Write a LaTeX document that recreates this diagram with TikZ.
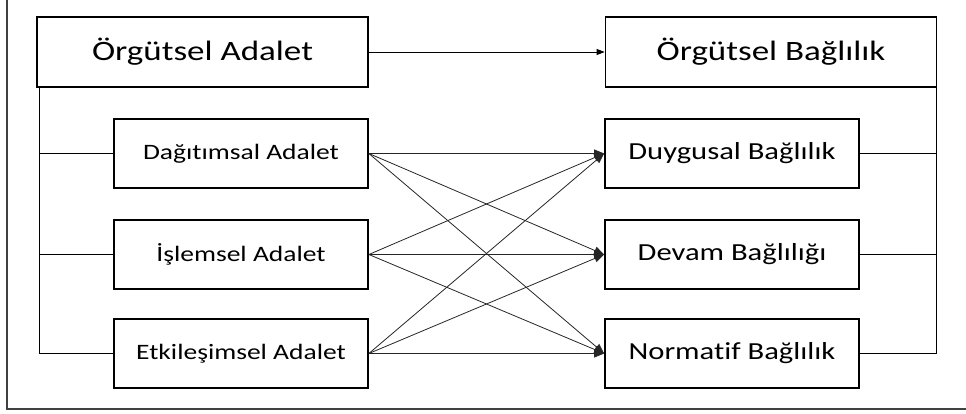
\documentclass[tikz,border=0pt]{standalone}
\usepackage{fontspec}
\setmainfont{Carlito}[FakeStretch=1.25,Ligatures=NoCommon]
\usetikzlibrary{arrows.meta}
\begin{document}
\begin{tikzpicture}[x=1pt,y=-1pt,
  bigbox/.style={draw,line width=1.7pt,minimum width=331pt,minimum height=70pt,inner sep=0pt,font=\fontsize{28}{30}\selectfont},
  lbox/.style={draw,line width=1.7pt,minimum width=254pt,minimum height=69pt,inner sep=0pt,font=\fontsize{22}{24}\selectfont},
  rbox/.style={draw,line width=1.7pt,minimum width=254pt,minimum height=69pt,inner sep=0pt,font=\fontsize{24.5}{26}\selectfont},
  conn/.style={line width=0.8pt},
  arr/.style={line width=0.8pt,black!85,-{Triangle[length=10pt,width=8pt]}},
  toparr/.style={line width=0.8pt,-{Triangle[length=8pt,width=6pt]}}
]
\useasboundingbox (0,0) rectangle (966,414);
% outer frame
\draw[line width=1.5pt,black!75] (7,0) -- (7,409) -- (966,409);

\node[bigbox] (ta) at (202.5,52) {Örgütsel Adalet};
\node[bigbox] (tb) at (771,52) {Örgütsel Bağlılık};

\node[lbox] (L1) at (241,153.5) {Dağıtımsal Adalet};
\node[lbox] (L2) at (241,254.5) {İşlemsel Adalet};
\node[lbox] (L3) at (241,353.5) {Etkileşimsel Adalet};

\node[rbox] (R1) at (732,153.5) {Duygusal Bağlılık};
\node[rbox] (R2) at (732,254.5) {Devam Bağlılığı};
\node[rbox] (R3) at (732,353.5) {Normatif Bağlılık};

\draw[toparr] (ta.east) -- (tb.west);

\coordinate (lx) at (39,0);
\coordinate (rx) at (936,0);
\draw[conn] (lx |- ta.south) -- (lx |- L3.west) -- (L3.west);
\draw[conn] (lx |- L1.west) -- (L1.west);
\draw[conn] (lx |- L2.west) -- (L2.west);
\draw[conn] (rx |- tb.south) -- (rx |- R3.east) -- (R3.east);
\draw[conn] (rx |- R1.east) -- (R1.east);
\draw[conn] (rx |- R2.east) -- (R2.east);

\foreach \a in {L1,L2,L3}{
  \foreach \b in {R1,R2,R3}{
    \draw[arr] (\a.east) -- (\b.west);
  }
}
\end{tikzpicture}
\end{document}
